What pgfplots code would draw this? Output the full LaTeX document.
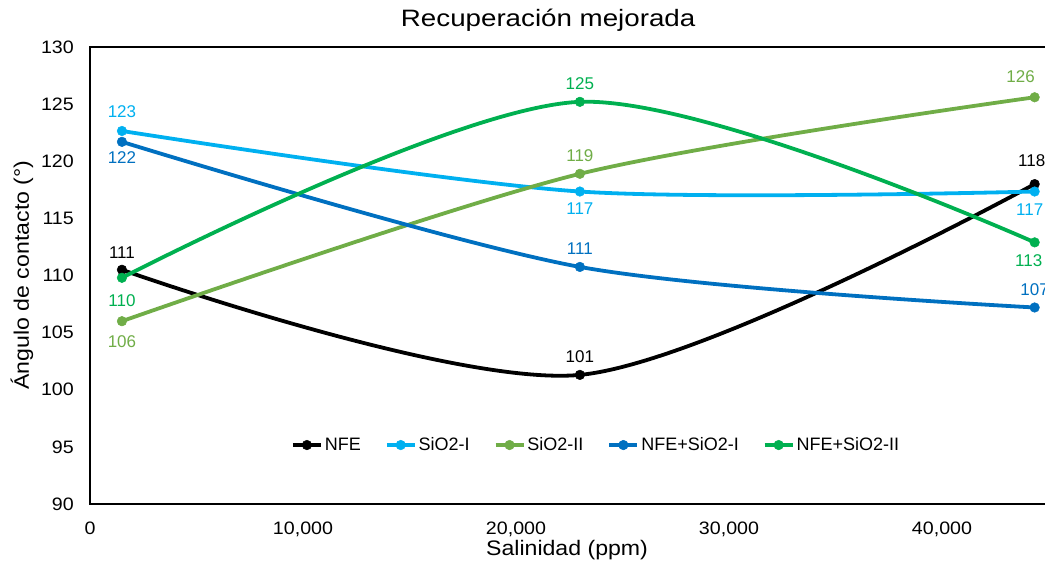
\documentclass[border=0pt]{standalone}
\usepackage{pgfplots}
\pgfplotsset{compat=1.18}
\usepackage{pgfplotstable}
\usepackage{fontspec}
\setmainfont{Liberation Sans}
\newfontfamily\ftitle{Liberation Sans}[FakeStretch=1.17]
\newfontfamily\flabel{Liberation Sans}[FakeStretch=1.1]
\newfontfamily\ftick{Liberation Sans}[FakeStretch=1.09]
\usetikzlibrary{calc}
\definecolor{cNFE}{RGB}{0,0,0}
\definecolor{cSiI}{RGB}{0,176,240}
\definecolor{cSiII}{RGB}{112,173,71}
\definecolor{cNSiI}{RGB}{0,112,192}
\definecolor{cNSiII}{RGB}{0,176,80}

\pgfplotstableread{
x y lbl dx dy
1500 110.5 111 0 17
23000 101.3 101 0 18
44350 118.0 118 -3 23
}\tNFE
\pgfplotstableread{
x y lbl dx dy
1500 122.65 123 0 19
23000 117.35 117 0 -17
44350 117.35 117 -5 -18
}\tSiI
\pgfplotstableread{
x y lbl dx dy
1500 106.0 106 0 -20
23000 118.9 119 0 18
44350 125.6 126 -14 21
}\tSiII
\pgfplotstableread{
x y lbl dx dy
1500 121.7 122 0 -16
23000 110.75 111 0 18
44350 107.2 107 0 18
}\tNSiI
\pgfplotstableread{
x y lbl dx dy
1500 109.8 110 0 -23
23000 125.2 125 0 18
44350 112.9 113 -6 -18
}\tNSiII

\begin{document}
\begin{tikzpicture}
\begin{axis}[
  name=ax,
  scale only axis,
  width=958.5pt, height=457pt,
  xmin=0, xmax=45000, ymin=90, ymax=130,
  xtick={0,10000,20000,30000,40000},
  ytick={90,95,...,130},
  major tick length=0pt,
  axis line style={line width=1.8pt},
  /pgf/number format/.cd, 1000 sep={,}, assume math mode=true,
  /pgfplots/.cd,
  scaled x ticks=false,
  tick label style={font=\ftick\fontsize{18}{21}\selectfont},
  xticklabel style={anchor=north, inner sep=0pt, yshift=-18pt},
  yticklabel style={anchor=east, inner sep=0pt, xshift=-16pt},
  title={Recuperación mejorada},
  title style={at={(0.478,1)}, anchor=center, yshift=21pt, font=\ftitle\fontsize{23.7}{28}\selectfont},
  xlabel={Salinidad (ppm)},
  xlabel style={at={(0.4977,0)}, anchor=center, yshift=-46pt, font=\flabel\fontsize{21}{24}\selectfont},
  ylabel={Ángulo de contacto (°)},
  ylabel style={font=\flabel\fontsize{21}{24}\selectfont},
  every axis y label/.append style={at={(axis description cs:-0.0709,0.501)}, anchor=center},
  legend columns=5,
  legend style={at={(0.528,0.129)}, anchor=center, draw=none, fill=none,
    font=\fontsize{18}{21}\selectfont,
    /tikz/every even column/.append style={column sep=22pt},
    inner sep=0pt},
  legend image code/.code={%
    \draw[mark repeat=2, mark phase=2, sharp plot] plot coordinates {(0pt,0pt) (14pt,0pt) (28pt,0pt)};},
  every axis plot/.append style={line width=3.8pt, smooth, mark=*, mark size=4.8pt},
  nodes near coords={\pgfplotspointmeta},
  point meta=explicit symbolic,
  visualization depends on={\thisrow{dx} \as \ldx},
  visualization depends on={\thisrow{dy} \as \ldy},
  every node near coord/.append style={anchor=center, inner sep=0pt,
    xshift=\ldx pt, yshift=\ldy pt, font=\fontsize{17}{20}\selectfont},
]
\addplot[color=cNFE, mark options={solid, line width=0.5pt}, every node near coord/.append style={text=cNFE}]
  table[x=x, y=y, meta=lbl] {\tNFE};
\addlegendentry{NFE}
\addplot[color=cSiI, mark options={solid, line width=0.5pt}, every node near coord/.append style={text=cSiI}]
  table[x=x, y=y, meta=lbl] {\tSiI};
\addlegendentry{SiO2-I}
\addplot[color=cSiII, mark options={solid, line width=0.5pt}, every node near coord/.append style={text=cSiII}]
  table[x=x, y=y, meta=lbl] {\tSiII};
\addlegendentry{SiO2-II}
\addplot[color=cNSiI, mark options={solid, line width=0.5pt}, every node near coord/.append style={text=cNSiI}]
  table[x=x, y=y, meta=lbl] {\tNSiI};
\addlegendentry{NFE+SiO2-I}
\addplot[color=cNSiII, mark options={solid, line width=0.5pt}, every node near coord/.append style={text=cNSiII}]
  table[x=x, y=y, meta=lbl] {\tNSiII};
\addlegendentry{NFE+SiO2-II}
\end{axis}
\pgfresetboundingbox
\path[use as bounding box] ($(ax.south west)+(-90pt,-63pt)$) rectangle ($(ax.south west)+(955pt,504pt)$);
\end{tikzpicture}
\end{document}
